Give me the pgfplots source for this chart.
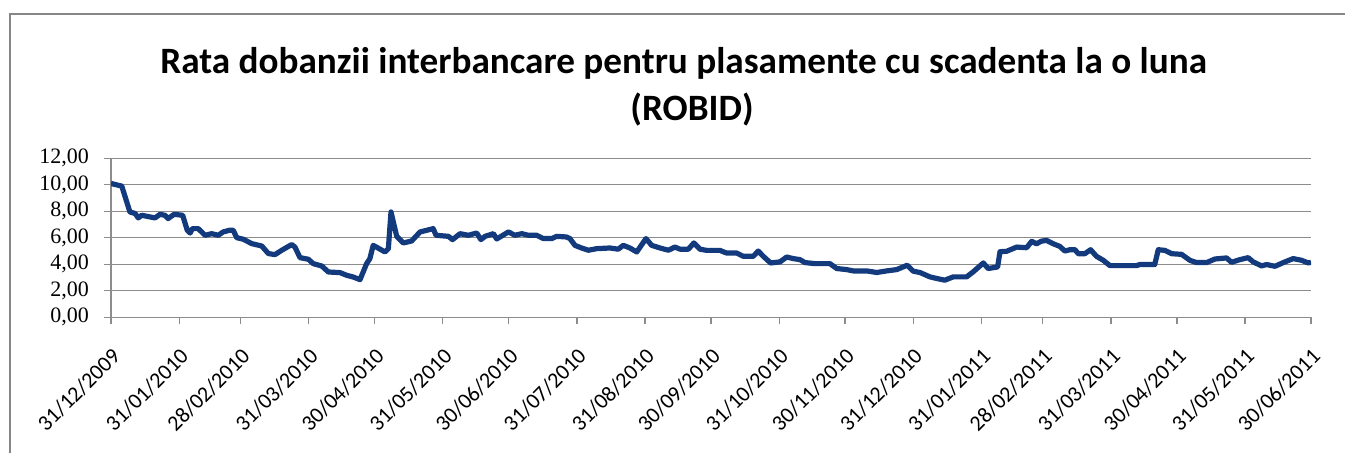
\documentclass[border=0pt]{standalone}
\usepackage{pgfplots}
\pgfplotsset{compat=1.18}
\usepackage{fontspec}
\setmainfont{Carlito}
\newfontfamily\ticserif{Liberation Serif}

\definecolor{robid}{RGB}{18,58,124}
\definecolor{gridgray}{RGB}{140,140,140}
\definecolor{framegray}{RGB}{135,135,135}

\begin{document}
\begin{tikzpicture}
  \path[use as bounding box] (0,0) rectangle (672.5pt,226.5pt);
  % chart area frame (only left and top edges are visible)
  \draw[framegray, line width=1pt] (5pt,0) -- (5pt,219.3pt) -- (672.5pt,219.3pt);

  \node[anchor=base, font=\bfseries\fontsize{18.6}{22}\selectfont] at (341.8pt,189.5pt)
    {Rata dobanzii interbancare pentru plasamente cu scadenta la o luna};
  \node[anchor=base, font=\bfseries\fontsize{18.6}{22}\selectfont] at (346pt,166pt)
    {(ROBID)};

  \begin{axis}[
    at={(55.5pt,67.85pt)}, anchor=south west,
    scale only axis,
    width=600pt, height=79.5pt,
    xmin=0, xmax=546,
    ymin=0, ymax=12,
    axis x line*=bottom, axis y line*=left,
    axis line style={gridgray, line width=0.6pt},
    ytick={0,2,...,12},
    ymajorgrids,
    major grid style={gridgray, line width=0.6pt},
    tick align=outside,
    major tick length=3.5pt,
    tick style={gridgray, line width=0.6pt},
    xtick={0,31,59,90,120,151,181,212,243,273,304,334,365,396,424,455,485,516,546},
    xticklabels={31/12/2009,31/01/2010,28/02/2010,31/03/2010,30/04/2010,31/05/2010,
      30/06/2010,31/07/2010,31/08/2010,30/09/2010,31/10/2010,30/11/2010,31/12/2010,
      31/01/2011,28/02/2011,31/03/2011,30/04/2011,31/05/2011,30/06/2011},
    x tick label style={font=\fontsize{11}{12}\selectfont, inner sep=0pt,
      xshift=2.8pt, yshift=-14pt, rotate=45, anchor=east},
    y tick label style={font=\ticserif\fontsize{11}{12}\selectfont, xshift=-4pt},
    /pgf/number format/.cd, use comma, fixed, fixed zerofill, precision=2,
    assume math mode=true,
  ]
    \addplot[robid, line width=2.6pt, line join=round] coordinates {
      (0,10.1) (4.9,9.9) (8.6,7.95) (11,7.83) (12.4,7.5) (14,7.7) (20,7.5)
      (22.3,7.77) (24.5,7.7) (26,7.45) (28.7,7.77) (32.6,7.7) (34.7,6.57)
      (36,6.36) (37,6.69) (39.7,6.69) (42.8,6.19) (45.8,6.31) (48.8,6.19)
      (51,6.44) (54,6.57) (55.6,6.57) (57.2,6.01) (60.2,5.89) (64,5.56)
      (68.6,5.38) (71.6,4.81) (74.6,4.73) (77.7,5.06) (82.2,5.49) (83.7,5.3)
      (86,4.5) (89.8,4.38) (92,4.05) (95.9,3.87) (98.9,3.42) (104.2,3.37)
      (107.2,3.17) (110.2,3.04) (113.3,2.84) (116.3,4.05) (117.8,4.43)
      (119.3,5.43) (124.7,4.93) (126.2,5.18) (127.4,7.95) (130,6.11)
      (133,5.61) (136.8,5.76) (140.6,6.44) (146.6,6.69) (147.9,6.19)
      (153.5,6.11) (155.4,5.86) (158.8,6.31) (162.6,6.19) (166.4,6.36)
      (168.3,5.86) (170.2,6.11) (174,6.31) (175.5,5.91) (177,6.06)
      (180.8,6.44) (183.8,6.19) (186.9,6.31) (189.9,6.19) (193.7,6.19)
      (196.7,5.94) (200.5,5.94) (202.8,6.11) (207.3,6.06) (208.8,5.94)
      (211.1,5.43) (214.1,5.23) (217.2,5.06) (221,5.18) (227,5.23)
      (230.8,5.14) (233.1,5.43) (236.1,5.23) (239.2,4.93) (243.4,5.94)
      (246,5.43) (249.8,5.23) (253.6,5.06) (256.6,5.3) (258.9,5.14)
      (262.7,5.14) (265.2,5.61) (268,5.14) (271,5.05) (277,5.05)
      (280.1,4.85) (284.7,4.85) (287.7,4.6) (292.2,4.6) (294.5,5.0)
      (296.8,4.6) (300.1,4.1) (304.4,4.18) (307.4,4.55) (310.4,4.43)
      (313.5,4.35) (315.7,4.13) (320.3,4.05) (327.1,4.05) (330.2,3.68)
      (334.7,3.6) (337.7,3.5) (343.8,3.5) (348.4,3.38) (352.9,3.5)
      (357.5,3.6) (362.3,3.93) (365,3.48) (368.1,3.38) (372.6,3.05)
      (375.7,2.93) (379.4,2.8) (383.2,3.05) (389.3,3.05) (392.3,3.43)
      (396.9,4.1) (399.1,3.68) (403.4,3.8) (404.5,4.95) (407.5,4.98)
      (412.1,5.3) (416.6,5.25) (418.9,5.73) (421.1,5.55) (423.4,5.75)
      (425.7,5.8) (428.7,5.55) (431.7,5.35) (434,5.0) (436.3,5.1)
      (438.6,5.1) (440.1,4.8) (443.1,4.8) (445.7,5.1) (448.4,4.6)
      (451.5,4.3) (454.5,3.9) (466.6,3.9) (468.1,3.98) (474.9,3.98)
      (476.5,5.1) (479.5,5.05) (482.6,4.8) (487.1,4.75) (490.9,4.3)
      (493.9,4.13) (498.5,4.13) (502.3,4.4) (507.6,4.48) (509.8,4.15)
      (513.6,4.35) (517.4,4.5) (519.7,4.18) (523.5,3.88) (525.8,3.98)
      (529.6,3.85) (534.1,4.18) (537.9,4.43) (541.7,4.3) (544.7,4.1)
      (546,4.15)
    };
  \end{axis}
\end{tikzpicture}
\end{document}
